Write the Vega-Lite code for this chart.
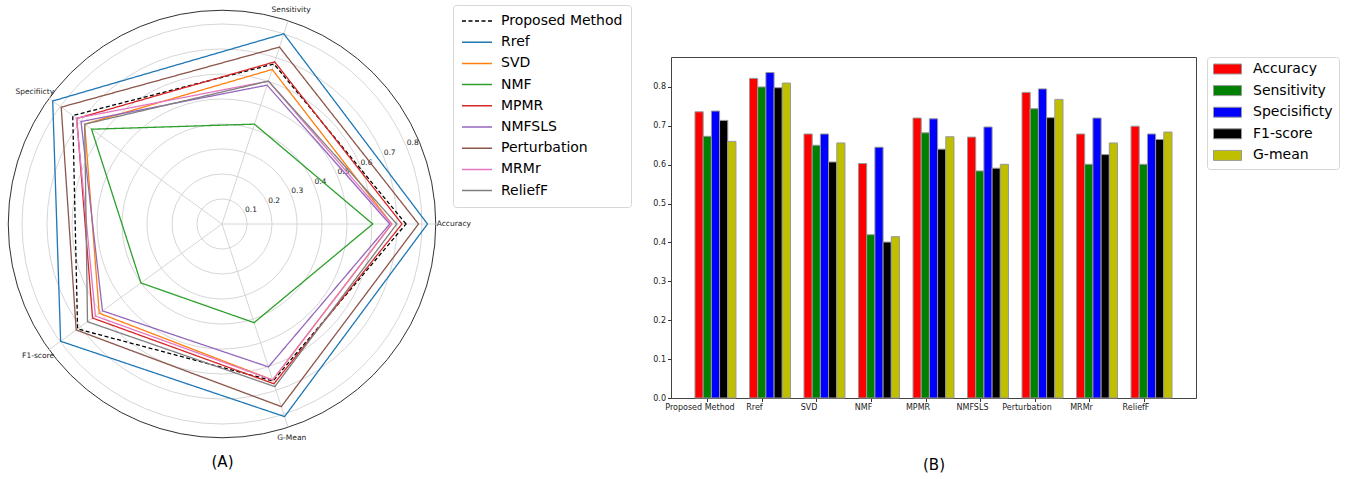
{
  "$schema": "https://vega.github.io/schema/vega-lite/v6.json",
  "padding": 0,
  "background": "white",
  "spacing": 181,
  "config": {
    "view": {"stroke": null},
    "font": "DejaVu Sans",
    "axis": {"labelFont": "DejaVu Sans", "titleFont": "DejaVu Sans"},
    "legend": {"labelFont": "DejaVu Sans"}
  },
  "datasets": {
    "scores": [
      {"method": "Proposed Method", "Accuracy": 0.736, "Sensitivity": 0.673, "Specisificty": 0.738, "F1-score": 0.714, "G-mean": 0.660},
      {"method": "Rref", "Accuracy": 0.822, "Sensitivity": 0.800, "Specisificty": 0.837, "F1-score": 0.798, "G-mean": 0.810},
      {"method": "SVD", "Accuracy": 0.679, "Sensitivity": 0.650, "Specisificty": 0.679, "F1-score": 0.607, "G-mean": 0.656},
      {"method": "NMF", "Accuracy": 0.603, "Sensitivity": 0.420, "Specisificty": 0.645, "F1-score": 0.401, "G-mean": 0.415},
      {"method": "MPMR", "Accuracy": 0.720, "Sensitivity": 0.682, "Specisificty": 0.718, "F1-score": 0.640, "G-mean": 0.672},
      {"method": "NMFSLS", "Accuracy": 0.671, "Sensitivity": 0.584, "Specisificty": 0.697, "F1-score": 0.591, "G-mean": 0.601},
      {"method": "Perturbation", "Accuracy": 0.786, "Sensitivity": 0.744, "Specisificty": 0.795, "F1-score": 0.721, "G-mean": 0.768},
      {"method": "MRMr", "Accuracy": 0.679, "Sensitivity": 0.601, "Specisificty": 0.720, "F1-score": 0.626, "G-mean": 0.656},
      {"method": "ReliefF", "Accuracy": 0.699, "Sensitivity": 0.601, "Specisificty": 0.679, "F1-score": 0.665, "G-mean": 0.684}
    ],
    "axes": [
      {"key": "Accuracy", "label": "Accuracy", "k": 0},
      {"key": "Sensitivity", "label": "Sensitivity", "k": 1},
      {"key": "Specisificty", "label": "Specifiicty", "k": 2},
      {"key": "F1-score", "label": "F1-score", "k": 3},
      {"key": "G-mean", "label": "G-Mean", "k": 4}
    ],
    "rings": [{"r": 0.1}, {"r": 0.2}, {"r": 0.3}, {"r": 0.4}, {"r": 0.5}, {"r": 0.6}, {"r": 0.7}, {"r": 0.8}],
    "frame": [{"r": 0.855}]
  },
  "hconcat": [
    {
      "width": 444,
      "height": 391,
      "encoding": {
        "x": {"field": "px", "type": "quantitative", "scale": {"domain": [-0.888, 0.888], "nice": false, "zero": false},
          "axis": {"title": "(A)", "domain": false, "ticks": false, "labels": false, "grid": false, "titlePadding": 6, "titleFontSize": 15, "titleFontWeight": "normal", "titleColor": "#000"}},
        "y": {"field": "py", "type": "quantitative", "scale": {"domain": [-0.896, 0.668], "nice": false, "zero": false}, "axis": null}
      },
      "layer": [
        {
          "data": {"name": "rings"},
          "transform": [{"calculate": "0", "as": "px"}, {"calculate": "0", "as": "py"}],
          "mark": {"type": "point", "shape": "circle", "filled": false, "color": "#cccccc", "stroke": "#cccccc", "strokeWidth": 0.8, "opacity": 1},
          "encoding": {
            "size": {"field": "r", "type": "quantitative", "scale": {"type": "pow", "exponent": 2, "domain": [0, 0.888], "range": [0, 197136], "zero": true, "nice": false}, "legend": null}
          }
        },
        {
          "data": {"name": "frame"},
          "transform": [{"calculate": "0", "as": "px"}, {"calculate": "0", "as": "py"}],
          "mark": {"type": "point", "shape": "circle", "filled": false, "color": "#1a1a1a", "stroke": "#1a1a1a", "strokeWidth": 0.9, "opacity": 1},
          "encoding": {
            "size": {"field": "r", "type": "quantitative", "scale": {"type": "pow", "exponent": 2, "domain": [0, 0.888], "range": [0, 197136], "zero": true, "nice": false}, "legend": null}
          }
        },
        {
          "data": {"name": "axes"},
          "transform": [
            {"calculate": "datum.k * 2 * PI / 5", "as": "a"},
            {"calculate": "0.855 * cos(datum.a)", "as": "px"},
            {"calculate": "0.855 * sin(datum.a)", "as": "py"}
          ],
          "layer": [
            {"mark": {"type": "rule", "stroke": "#cccccc", "strokeWidth": 0.8}, "encoding": {"x2": {"datum": 0}, "y2": {"datum": 0}}},
            {"transform": [{"filter": "datum.k == 0"}], "mark": {"type": "text", "align": "left", "baseline": "middle", "dx": 1, "fontSize": 7.5, "color": "#222"}, "encoding": {"text": {"field": "label"}}},
            {"transform": [{"filter": "datum.k == 1"}], "mark": {"type": "text", "align": "center", "baseline": "bottom", "dx": 3, "dy": -6.5, "fontSize": 7.5, "color": "#222"}, "encoding": {"text": {"field": "label"}}},
            {"transform": [{"filter": "datum.k == 2"}], "mark": {"type": "text", "align": "right", "baseline": "middle", "dx": 5, "dy": -6.7, "fontSize": 7.5, "color": "#222"}, "encoding": {"text": {"field": "label"}}},
            {"transform": [{"filter": "datum.k == 3"}], "mark": {"type": "text", "align": "right", "baseline": "middle", "dx": 5, "dy": 6.4, "fontSize": 7.5, "color": "#222"}, "encoding": {"text": {"field": "label"}}},
            {"transform": [{"filter": "datum.k == 4"}], "mark": {"type": "text", "align": "center", "baseline": "top", "dx": 3.7, "dy": 6.3, "fontSize": 7.5, "color": "#222"}, "encoding": {"text": {"field": "label"}}}
          ]
        },
        {
          "data": {"name": "rings"},
          "transform": [
            {"calculate": "datum.r * cos(PI / 8)", "as": "px"},
            {"calculate": "datum.r * sin(PI / 8)", "as": "py"}
          ],
          "mark": {"type": "text", "align": "left", "baseline": "bottom", "fontSize": 7.5, "color": "#222"},
          "encoding": {"text": {"field": "r", "type": "quantitative", "format": ".1f"}}
        },
        {
          "data": {"name": "scores"},
          "transform": [
            {"fold": ["Accuracy", "Sensitivity", "Specisificty", "F1-score", "G-mean"], "as": ["key", "value"]},
            {"lookup": "key", "from": {"data": {"name": "axes"}, "key": "key", "fields": ["k"]}},
            {"calculate": "datum.k * 2 * PI / 5", "as": "a"},
            {"calculate": "datum.value * cos(datum.a)", "as": "px"},
            {"calculate": "datum.value * sin(datum.a)", "as": "py"}
          ],
          "mark": {"type": "line", "interpolate": "linear-closed", "strokeWidth": 1.3},
          "encoding": {
            "order": {"field": "k", "type": "quantitative"},
            "color": {
              "field": "method", "type": "nominal",
              "scale": {
                "domain": ["Proposed Method", "Rref", "SVD", "NMF", "MPMR", "NMFSLS", "Perturbation", "MRMr", "ReliefF"],
                "range": ["#000000", "#1f77b4", "#ff7f0e", "#2ca02c", "#d62728", "#9467bd", "#8c564b", "#e377c2", "#7f7f7f"]
              },
              "legend": {"title": null, "orient": "none", "legendX": 453, "legendY": -52, "labelFontSize": 14, "labelColor": "#000", "symbolType": "stroke", "symbolSize": 900, "symbolStrokeWidth": 1.5, "strokeColor": "#d6d6d6", "fillColor": "white", "cornerRadius": 3, "padding": 8, "clipHeight": 16, "rowPadding": 5.2, "labelOffset": 8}
            },
            "strokeDash": {
              "field": "method", "type": "nominal",
              "scale": {
                "domain": ["Proposed Method", "Rref", "SVD", "NMF", "MPMR", "NMFSLS", "Perturbation", "MRMr", "ReliefF"],
                "range": [[4, 2.5], [1, 0], [1, 0], [1, 0], [1, 0], [1, 0], [1, 0], [1, 0], [1, 0]]
              },
              "legend": {"title": null, "orient": "none", "legendX": 453, "legendY": -52, "labelFontSize": 14, "labelColor": "#000", "symbolType": "stroke", "symbolSize": 900, "symbolStrokeWidth": 1.5, "strokeColor": "#d6d6d6", "fillColor": "white", "cornerRadius": 3, "padding": 8, "clipHeight": 16, "rowPadding": 5.2, "labelOffset": 8}
            }
          }
        }
      ]
    },
    {
      "width": 525,
      "height": 341,
      "title": {"text": " ", "fontSize": 10, "offset": 46},
      "view": {"stroke": "#444", "strokeWidth": 1},
      "data": {"name": "scores"},
      "transform": [
        {"fold": ["Accuracy", "Sensitivity", "Specisificty", "F1-score", "G-mean"], "as": ["metric", "value"]}
      ],
      "mark": {"type": "bar", "stroke": "#999999", "strokeWidth": 1},
      "encoding": {
        "x": {
          "field": "method", "type": "nominal",
          "sort": ["Proposed Method", "Rref", "SVD", "NMF", "MPMR", "NMFSLS", "Perturbation", "MRMr", "ReliefF"],
          "scale": {"paddingInner": 0.248, "paddingOuter": 0.44},
          "axis": {"title": "(B)", "titleFontSize": 15, "titleFontWeight": "normal", "titleColor": "#000", "titlePadding": 46, "labelAngle": 0, "labelFontSize": 8, "labelColor": "#222", "labelOffset": -8, "tickOffset": -8, "tickSize": 3.5, "tickColor": "#333", "labelPadding": 2, "domain": false, "grid": false}
        },
        "xOffset": {
          "field": "metric", "type": "nominal",
          "sort": ["Accuracy", "Sensitivity", "Specisificty", "F1-score", "G-mean"],
          "scale": {"paddingInner": 0, "paddingOuter": 0}
        },
        "y": {
          "field": "value", "type": "quantitative",
          "scale": {"domain": [0, 0.877], "nice": false, "zero": true},
          "axis": {"title": null, "format": ".1f", "values": [0, 0.1, 0.2, 0.3, 0.4, 0.5, 0.6, 0.7, 0.8], "grid": false, "domain": false, "labelFontSize": 8, "labelColor": "#222", "tickSize": 3.5, "tickColor": "#333", "labelPadding": 2}
        },
        "fill": {
          "field": "metric", "type": "nominal",
          "scale": {"domain": ["Accuracy", "Sensitivity", "Specisificty", "F1-score", "G-mean"], "range": ["#ff0000", "#008000", "#0000ff", "#000000", "#bfbf00"]},
          "legend": {"title": null, "orient": "right", "offset": 10, "labelFontSize": 14, "labelColor": "#000", "symbolType": "M-1,-0.357H1V0.357H-1Z", "symbolSize": 784, "symbolStrokeColor": "#999999", "symbolStrokeWidth": 1, "symbolOpacity": 1, "strokeColor": "#d6d6d6", "fillColor": "white", "cornerRadius": 3, "padding": 6, "clipHeight": 12, "rowPadding": 7.6, "labelOffset": 11}
        }
      }
    }
  ]
}
